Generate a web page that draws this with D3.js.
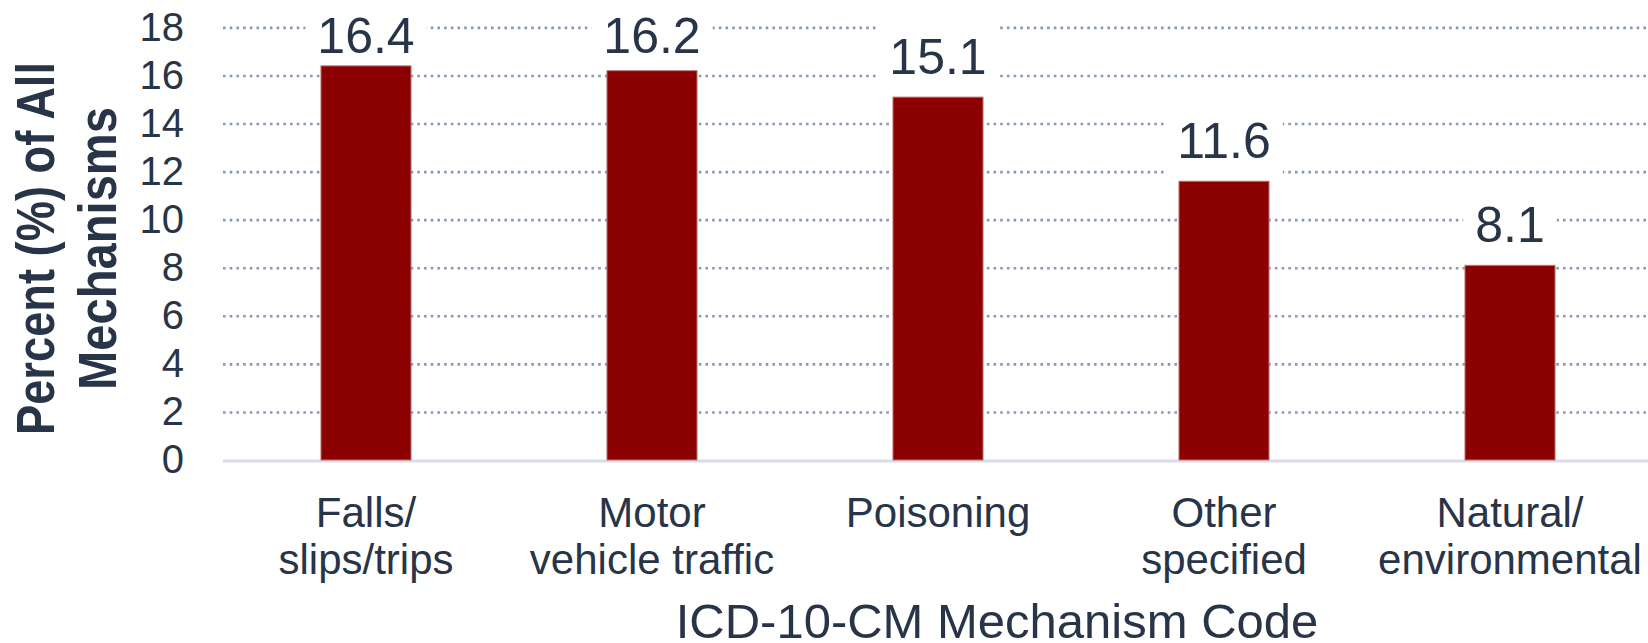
<!DOCTYPE html>
<html>
<head>
<meta charset="utf-8">
<script src="https://cdnjs.cloudflare.com/ajax/libs/d3/7.8.5/d3.min.js"></script>
<style>
  html, body { margin: 0; padding: 0; background: #fff; }
  svg { display: block; }
</style>
</head>
<body>
<svg></svg>
<script>
// Chart data
let categories = ["Falls/ slips/trips", "Motor vehicle traffic", "Poisoning", "Other specified", "Natural/ environmental"];
let labelLines = [["Falls/", "slips/trips"], ["Motor", "vehicle traffic"], ["Poisoning"], ["Other", "specified"], ["Natural/", "environmental"]];
let values = [16.4, 16.2, 15.1, 11.6, 8.1];
let yTicks = [0, 2, 4, 6, 8, 10, 12, 14, 16, 18];
let yTitleLines = ["Percent (%) of All", "Mechanisms"];
let xTitle = "ICD-10-CM Mechanism Code";

let width = 1648,
  height = 643;

let textColor = "#283447";
let font = "'Liberation Sans', Arial, sans-serif";

let svg = d3.select("svg")
  .attr("width", width)
  .attr("height", height)
  .attr("viewBox", "0 0 " + width + " " + height);

// scales
let x = d3.scaleBand()
  .domain(categories)
  .range([223, 1653])
  .paddingInner(0.685)
  .paddingOuter(0.3425);

let y = d3.scaleLinear()
  .domain([0, 18])
  .range([460, 27.4]);

// dotted gridlines
let grid = svg.append("g")
  .attr("transform", "translate(223,0)")
  .call(d3.axisLeft(y).tickValues(yTicks.filter(d => d > 0)).tickSize(-(width - 223)).tickFormat(""));
grid.select(".domain").remove();
grid.selectAll("line")
  .attr("stroke", "#8799b6")
  .attr("stroke-width", 2.6)
  .attr("stroke-dasharray", "2.6 4.1");

// baseline
svg.append("line")
  .attr("x1", 223).attr("x2", width)
  .attr("y1", y(0) + 1).attr("y2", y(0) + 1)
  .attr("stroke", "#d9dde7")
  .attr("stroke-width", 3);

// y tick labels
let yAxis = svg.append("g")
  .attr("transform", "translate(223,0)")
  .call(d3.axisLeft(y).tickValues(yTicks).tickSize(0).tickPadding(39));
yAxis.select(".domain").remove();
yAxis.selectAll("text")
  .attr("fill", textColor)
  .style("font-family", font)
  .style("font-size", "40px");

// white boxes behind value labels (drawn under the bars)
let boxLayer = svg.append("g");

// bars
svg.append("g")
  .selectAll("rect")
  .data(values)
  .enter()
  .append("rect")
  .attr("x", (d, i) => x(categories[i]))
  .attr("width", x.bandwidth())
  .attr("y", d => y(d))
  .attr("height", d => y(0) - y(d))
  .attr("fill", "#8b0000")
  .attr("stroke", "#c07a7a")
  .attr("stroke-width", 1);

// value labels
let labels = svg.append("g")
  .selectAll("text")
  .data(values)
  .enter()
  .append("text")
  .attr("x", (d, i) => x(categories[i]) + x.bandwidth() / 2)
  .attr("y", d => Math.max(y(d) - 23, 53))
  .attr("text-anchor", "middle")
  .attr("fill", textColor)
  .style("font-family", font)
  .style("font-size", "50px")
  .text(d => d.toFixed(1));

labels.each(function (d, i) {
  let w = this.getComputedTextLength();
  let cx = x(categories[i]) + x.bandwidth() / 2;
  let base = Math.max(y(d) - 23, 53);
  boxLayer.append("rect")
    .attr("fill", "#fff")
    .attr("x", cx - w / 2 - 12)
    .attr("width", w + 24)
    .attr("y", base - 50)
    .attr("height", 68);
});

// x tick labels
let xAxis = svg.append("g")
  .attr("transform", "translate(0," + y(0) + ")")
  .call(d3.axisBottom(x).tickSize(0).tickFormat(""));
xAxis.select(".domain").remove();
xAxis.selectAll(".tick").each(function (d, i) {
  let t = d3.select(this).append("text")
    .attr("text-anchor", "middle")
    .attr("fill", textColor)
    .style("font-family", font)
    .style("font-size", "42px");
  labelLines[i].forEach((line, j) => {
    t.append("tspan")
      .attr("x", 0)
      .attr("y", 67 + j * 47)
      .text(line);
  });
});

// axis titles
let yTitle = svg.append("text")
  .attr("transform", "translate(0,248.5) rotate(-90)")
  .attr("text-anchor", "middle")
  .attr("fill", textColor)
  .style("font-family", font)
  .style("font-size", "54px")
  .style("font-weight", "bold");
let yTitleLens = [373, 283];
yTitleLines.forEach((line, j) => {
  yTitle.append("tspan")
    .attr("x", 0)
    .attr("y", 54 + j * 62)
    .attr("textLength", yTitleLens[j])
    .attr("lengthAdjust", "spacingAndGlyphs")
    .text(line);
});

svg.append("text")
  .attr("x", 997)
  .attr("y", 638)
  .attr("text-anchor", "middle")
  .attr("fill", textColor)
  .style("font-family", font)
  .style("font-size", "49px")
  .text(xTitle);
</script>
</body>
</html>
